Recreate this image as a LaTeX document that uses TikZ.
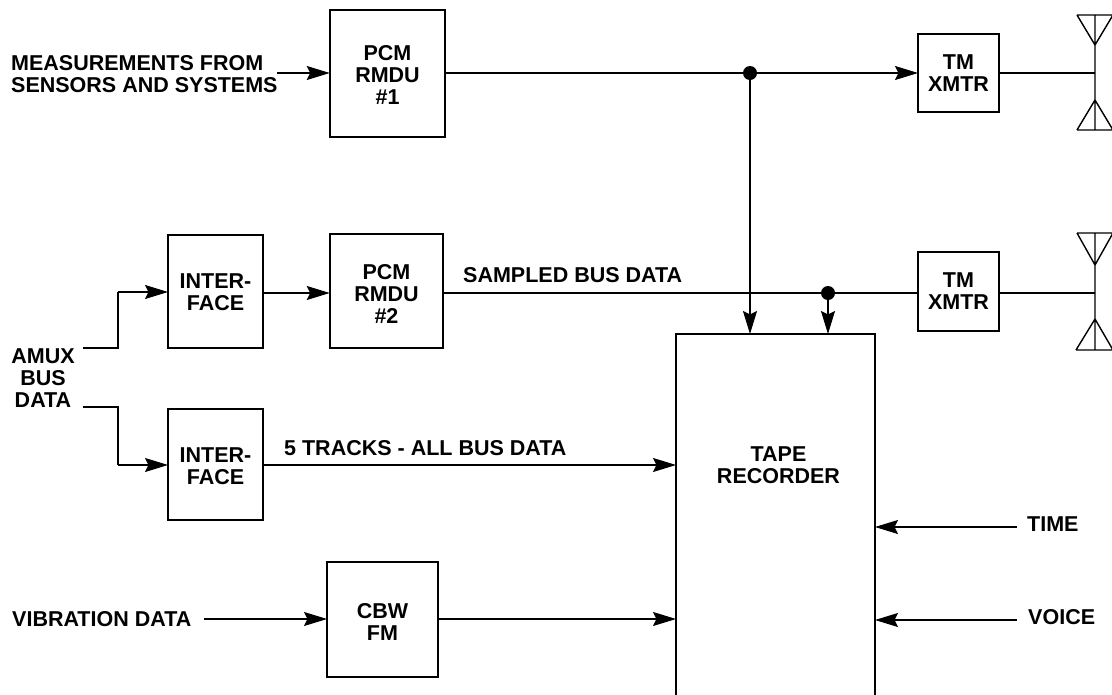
\documentclass[tikz,border=0pt]{standalone}
\usepackage{fontspec}
\setmainfont{Liberation Sans}
\usetikzlibrary{arrows.meta}
\tikzset{x=1pt,y=-1pt,
 blk/.style={draw=black,line width=2.3pt,fill=white,inner sep=0pt,outer sep=0pt},
 lbl/.style={font=\bfseries\fontsize{21.5}{22}\selectfont,align=center,inner sep=0pt,text=black},
 lnk/.style={draw=black,line width=1.4pt},
 arr/.style={lnk,-{Stealth[length=23pt,width=14pt,inset=3.5pt]}},
 ant/.style={draw=black,line width=1.4pt,line join=miter},
 dot/.style={circle,fill=black,minimum size=14pt,inner sep=0pt}}
\newcommand{\blockat}[8]{\node[blk,minimum width=#4 pt,minimum height=#5 pt] (#1) at (#2,#3) {};
 \node[lbl] (#1text) at (#1.center) [xshift=#7 pt,yshift=-#6 pt] {#8};}
\begin{document}
\begin{tikzpicture}
\useasboundingbox (0,0) rectangle (1112,694);
\blockat{pcmone}{387.5}{73.5}{115.5}{127}{1.5}{0}{PCM\\RMDU\\\#1}
\blockat{pcmtwo}{386.5}{291}{113.5}{114}{2.5}{0}{PCM\\RMDU\\\#2}
\blockat{ifone}{215.5}{291.5}{95}{113}{1}{0}{INTER-\\FACE}
\blockat{iftwo}{215.5}{464.5}{95}{111}{1.5}{0}{INTER-\\FACE}
\blockat{cbw}{382.5}{619.5}{111}{115}{2.5}{0}{CBW\\FM}
\blockat{xone}{958.5}{73}{81}{78}{0}{0}{TM\\XMTR}
\blockat{xtwo}{958.5}{291.5}{81}{79}{0}{0}{TM\\XMTR}
\blockat{tape}{775.5}{515}{199}{362}{-50}{3}{TAPE\\RECORDER}
\node[lbl,align=left,anchor=west] (meas) at (11,74) {MEASUREMENTS FROM\\SENSORS AND SYSTEMS};
\node[lbl] (amux) at (43,378) {AMUX\\BUS\\DATA};
\node[lbl,anchor=west] (vib) at (12,619) {VIBRATION DATA};
\node[lbl,anchor=west] (sampled) at (463,275) {SAMPLED BUS DATA};
\node[lbl,anchor=west] (tracks) at (284,448) {5 TRACKS - ALL BUS DATA};
\node[lbl,anchor=west] (time) at (1027,524) {TIME};
\node[lbl,anchor=west] (voice) at (1028,617) {VOICE};
\node[dot] (dotone) at (750,73) {};
\node[dot] (dottwo) at (828,293) {};
\coordinate (measend) at (277,73);
\coordinate (amuxa) at (83,348);
\coordinate (amuxb) at (118,292);
\coordinate (amuxc) at (83,407);
\coordinate (amuxd) at (118,465);
\coordinate (vibend) at (204,619);
\coordinate (antA) at (1095,73);
\coordinate (antB) at (1095,293);
\coordinate (timeend) at (1017,527);
\coordinate (voiceend) at (1017,620);
\draw[arr] (measend) -- (measend -| pcmone.west);
\draw[lnk] (pcmone.east |- dotone) -- (dotone);
\draw[arr] (dotone) -- (xone.west |- dotone);
\draw[arr] (dotone) -- (dotone |- tape.north);
\draw[lnk] (pcmtwo.east |- dottwo) -- (dottwo);
\draw[lnk] (dottwo) -- (xtwo.west |- dottwo);
\draw[arr] (dottwo) -- (dottwo |- tape.north);
\draw[arr] (ifone.east |- dottwo) -- (pcmtwo.west |- dottwo);
\draw[lnk] (amuxa) -| (amuxb);
\draw[arr] (amuxb) -- (ifone.west |- amuxb);
\draw[lnk] (amuxc) -| (amuxd);
\draw[arr] (amuxd) -- (iftwo.west |- amuxd);
\draw[arr] (iftwo.east |- amuxd) -- (tape.west |- amuxd);
\draw[arr] (vibend) -- (cbw.west |- vibend);
\draw[arr] (cbw.east |- vibend) -- (tape.west |- vibend);
\draw[arr] (timeend) -- (tape.east |- timeend);
\draw[arr] (voiceend) -- (tape.east |- voiceend);
\draw[lnk] (xone.east |- antA) -- (antA);
\draw[lnk] (xtwo.east |- antB) -- (antB);
\draw[ant] (1077,15) -- (1112,15) (1077,15) -- (1095,45) -- (1113,15) (1095,15) -- (1095,130)
 (1077,130) -- (1112,130) (1077,130) -- (1095,100) -- (1113,130);
\draw[ant] (1077,233) -- (1112,233) (1077,233) -- (1095,265) -- (1113,233) (1095,233) -- (1095,350)
 (1076,350) -- (1112,350) (1076,350) -- (1095,319) -- (1113,350);
\end{tikzpicture}
\end{document}
